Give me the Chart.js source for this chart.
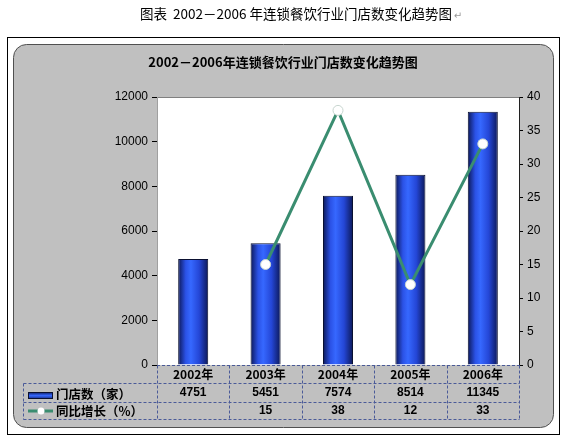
<!DOCTYPE html>
<html>
<head>
<meta charset="utf-8">
<script src="https://cdn.jsdelivr.net/npm/chart.js@4.4.1/dist/chart.umd.min.js"></script>
<style>
    body { margin: 0; background: #fff; }
    canvas { display: block; }
</style>
</head>
<body>
<canvas id="storeChart" width="565" height="438"></canvas>
<script>
// chart values
const years = ["2002年", "2003年", "2004年", "2005年", "2006年"];
const storeCounts = [4751, 5451, 7574, 8514, 11345];
const growthRates = [null, 15, 38, 12, 33];
const leftTicks = [0, 2000, 4000, 6000, 8000, 10000, 12000];
const rightTicks = [0, 5, 10, 15, 20, 25, 30, 35, 40];

const pageTitle = "图表  2002－2006 年连锁餐饮行业门店数变化趋势图";
const chartTitle = "2002－2006年连锁餐饮行业门店数变化趋势图";
const storeLabel = "门店数（家）";
const growthLabel = "同比增长（%）";

const cjk = '"Noto Sans CJK SC", "Liberation Sans", sans-serif';
const lineColor = "#3a8d70";

// horizontal gradient for each bar
const barGradient = (context) => {
    const chart = context.chart;
    const xScale = chart.scales.x;
    if (!chart.chartArea || !xScale) return "#2a50e0";
    const cx = xScale.getPixelForValue(context.dataIndex);
    const half = 15;
    const g = chart.ctx.createLinearGradient(cx - half, 0, cx + half, 0);
    g.addColorStop(0, "#0c1858");
    g.addColorStop(0.25, "#2b52e6");
    g.addColorStop(0.42, "#3668ff");
    g.addColorStop(0.7, "#2446d6");
    g.addColorStop(1, "#0c1858");
    return g;
};

// frame, titles and white plot area
const backgroundPlugin = {
    id: "background",
    beforeDraw(chart) {
        const { ctx, chartArea } = chart;
        ctx.save();
        ctx.fillStyle = "#fff";
        ctx.fillRect(0, 0, chart.width, chart.height);

        ctx.fillStyle = "#000";
        ctx.font = "13.5px " + cjk;
        ctx.textAlign = "center";
        ctx.textBaseline = "middle";
        ctx.fillText(pageTitle, 296, 14);
        const w = ctx.measureText(pageTitle).width;
        ctx.fillStyle = "#999";
        ctx.font = "10px DejaVu Sans";
        ctx.fillText("↵", 296 + w / 2 + 6, 16);

        ctx.strokeStyle = "#000";
        ctx.lineWidth = 1;
        ctx.strokeRect(7.5, 37.5, 552, 397);

        ctx.beginPath();
        ctx.roundRect(13.5, 44.5, 540, 383, 13);
        ctx.fillStyle = "#c0c0c0";
        ctx.fill();
        ctx.strokeStyle = "#505050";
        ctx.stroke();

        ctx.fillStyle = "#000";
        ctx.font = "bold 13px " + cjk;
        ctx.fillText(chartTitle, 283, 62);

        ctx.fillStyle = "#fff";
        ctx.fillRect(chartArea.left, chartArea.top, chartArea.right - chartArea.left, chartArea.bottom - chartArea.top);
        ctx.strokeStyle = "#808080";
        ctx.beginPath();
        ctx.moveTo(chartArea.left, chartArea.top + 0.5);
        ctx.lineTo(chartArea.right, chartArea.top + 0.5);
        ctx.stroke();
        ctx.restore();
    }
};

// data table under the plot
const tablePlugin = {
    id: "dataTable",
    afterDraw(chart) {
        const { ctx, chartArea } = chart;
        const x = chart.scales.x;
        const left = 23.5, top = chartArea.bottom + 0.5;
        const row1 = 383.5, row2 = 402.5, bottom = 419.5;
        const right = chartArea.right + 0.5;
        const step = (chartArea.right - chartArea.left) / years.length;

        ctx.save();
        ctx.strokeStyle = "#4a5a98";
        ctx.lineWidth = 1;
        ctx.setLineDash([3, 2]);
        ctx.beginPath();
        ctx.moveTo(chartArea.left, top); ctx.lineTo(right, top);
        ctx.moveTo(left, row1); ctx.lineTo(right, row1);
        ctx.moveTo(left, row2); ctx.lineTo(right, row2);
        ctx.moveTo(left, bottom); ctx.lineTo(right, bottom);
        ctx.moveTo(left, row1); ctx.lineTo(left, bottom);
        for (let i = 0; i <= years.length; i++) {
            const vx = Math.round(chartArea.left + i * step) + 0.5;
            ctx.moveTo(vx, top); ctx.lineTo(vx, bottom);
        }
        ctx.stroke();
        ctx.setLineDash([]);

        ctx.fillStyle = "#000";
        ctx.textAlign = "center";
        ctx.textBaseline = "middle";
        years.forEach((yr, i) => {
            const cx = x.getPixelForValue(i);
            ctx.font = "bold 12px " + cjk;
            ctx.fillText(yr, cx, 374);
            ctx.font = "bold 12px Liberation Sans";
            ctx.fillText(String(storeCounts[i]), cx, 393);
            if (growthRates[i] !== null) ctx.fillText(String(growthRates[i]), cx, 411);
        });

        // legend keys
        const kg = ctx.createLinearGradient(0, 392, 0, 400);
        kg.addColorStop(0, "#0c1858");
        kg.addColorStop(0.45, "#3668ff");
        kg.addColorStop(1, "#0c1858");
        ctx.fillStyle = kg;
        ctx.fillRect(28, 392, 25, 7);
        ctx.strokeStyle = "#0a1030";
        ctx.strokeRect(28.5, 392.5, 24, 6);

        ctx.strokeStyle = lineColor;
        ctx.lineWidth = 3;
        ctx.beginPath();
        ctx.moveTo(28, 411); ctx.lineTo(53, 411);
        ctx.stroke();
        ctx.beginPath();
        ctx.arc(41, 411, 3.5, 0, Math.PI * 2);
        ctx.fillStyle = "#fff";
        ctx.fill();

        ctx.fillStyle = "#000";
        ctx.textAlign = "left";
        ctx.font = "bold 12.5px " + cjk;
        ctx.fillText(storeLabel, 56, 394);
        ctx.fillText(growthLabel, 56, 411);
        ctx.restore();
    }
};

const ctx = document.getElementById("storeChart").getContext("2d");

new Chart(ctx, {
    type: "bar",
    data: {
        labels: years,
        datasets: [
            {
                type: "line",
                label: growthLabel,
                data: growthRates,
                yAxisID: "y1",
                order: 0,
                borderColor: lineColor,
                borderWidth: 3,
                tension: 0,
                pointRadius: 5,
                pointBackgroundColor: "#ffffff",
                pointBorderColor: "#c8d6d0",
                pointBorderWidth: 1
            },
            {
                label: storeLabel,
                data: storeCounts,
                yAxisID: "y",
                order: 1,
                backgroundColor: barGradient,
                borderColor: "#0a1030",
                borderWidth: 1,
                categoryPercentage: 1,
                barPercentage: 0.415
            }
        ]
    },
    options: {
        responsive: false,
        animation: false,
        layout: { padding: { top: 97, bottom: 73, left: 0, right: 0 } },
        plugins: {
            legend: { display: false },
            tooltip: { enabled: false }
        },
        scales: {
            x: { display: false, offset: true },
            y: {
                position: "left",
                min: leftTicks[0],
                max: leftTicks[leftTicks.length - 1],
                afterBuildTicks: s => { s.ticks = leftTicks.map(v => ({ value: v })); },
                afterFit: s => { s.width = 157; },
                grid: { drawOnChartArea: false, tickLength: 5, color: "#000" },
                border: { color: "#a0a0a0" },
                ticks: {
                    color: "#000",
                    padding: 4,
                    font: { family: "Liberation Sans", size: 12 },
                    callback: v => String(v)
                }
            },
            y1: {
                position: "right",
                min: rightTicks[0],
                max: rightTicks[rightTicks.length - 1],
                afterBuildTicks: s => { s.ticks = rightTicks.map(v => ({ value: v })); },
                afterFit: s => { s.width = 46; },
                grid: { drawOnChartArea: false, tickLength: 4, color: "#000" },
                border: { color: "#202020" },
                ticks: {
                    color: "#000",
                    padding: 4,
                    font: { family: "Liberation Sans", size: 12 },
                    callback: v => String(v)
                }
            }
        }
    },
    plugins: [backgroundPlugin, tablePlugin]
});
</script>
</body>
</html>
